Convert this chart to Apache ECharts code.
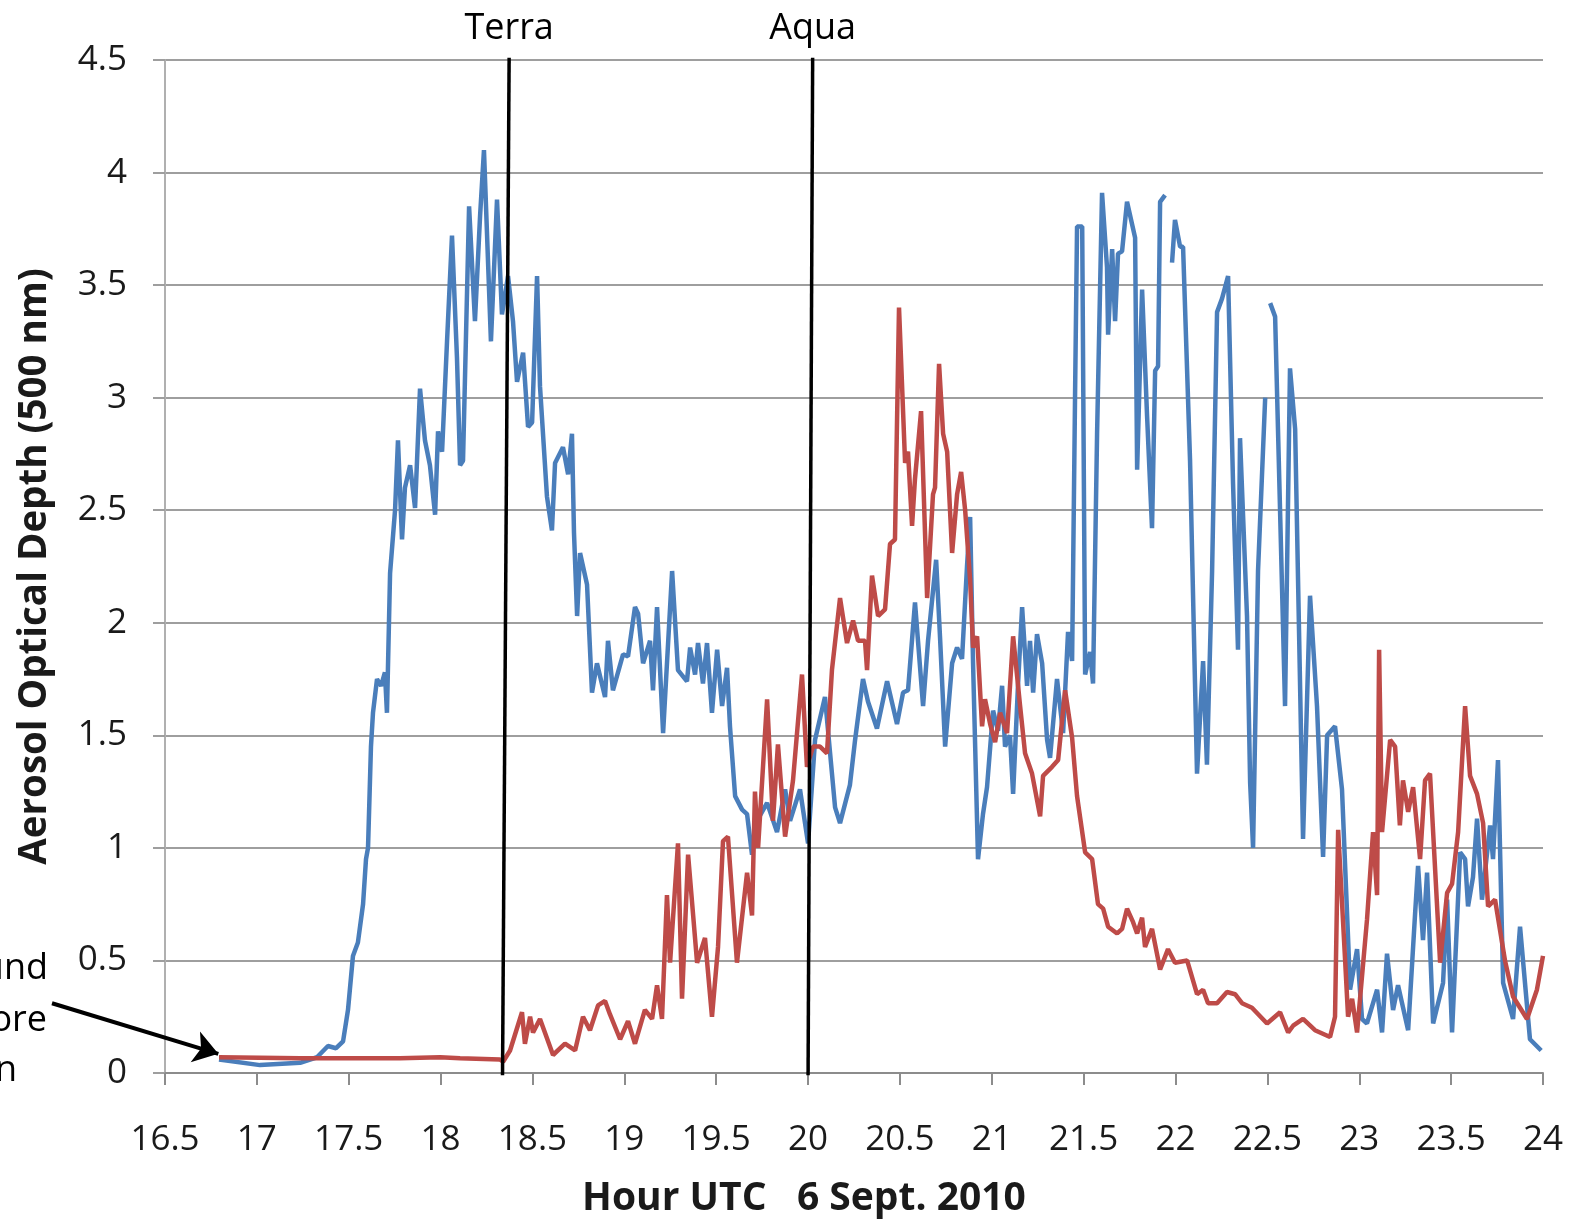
<!DOCTYPE html>
<html>
<head>
<meta charset="utf-8">
<script src="https://cdn.jsdelivr.net/npm/echarts@6/dist/echarts.min.js"></script>
<style>
  html, body { margin: 0; padding: 0; background: #fff; }
  #chart { width: 1571px; height: 1225px; }
</style>
</head>
<body>
<div id="chart"></div>
<script>
// Aerosol optical depth at 500 nm, hour UTC on 6 Sept. 2010
// Each point: [hour UTC, optical depth]; '-' marks a gap in the record.
const blueSeries = [
  [16.794,0.06],[17.017,0.035],[17.235,0.045],[17.327,0.07],[17.387,0.12],[17.431,0.11],
  [17.469,0.14],[17.496,0.28],[17.523,0.52],[17.55,0.58],[17.578,0.75],[17.594,0.95],
  [17.605,1.0],[17.621,1.45],[17.632,1.6],[17.654,1.75],[17.676,1.72],[17.697,1.78],
  [17.708,1.6],[17.725,2.22],[17.752,2.5],[17.768,2.81],[17.79,2.37],[17.806,2.6],
  [17.834,2.7],[17.861,2.51],[17.888,3.04],[17.915,2.81],[17.942,2.7],[17.97,2.48],
  [17.986,2.85],[18.008,2.76],[18.035,3.25],[18.062,3.72],[18.089,3.18],[18.106,2.7],
  [18.122,2.72],[18.155,3.85],[18.187,3.34],[18.215,3.81],[18.236,4.1],[18.274,3.25],
  [18.307,3.88],[18.334,3.37],[18.367,3.54],[18.394,3.34],[18.416,3.07],[18.449,3.2],
  [18.476,2.87],[18.498,2.89],[18.525,3.54],[18.541,3.05],[18.579,2.56],[18.606,2.41],
  [18.623,2.71],[18.666,2.78],[18.694,2.66],[18.715,2.84],[18.726,2.4],[18.743,2.03],
  [18.759,2.31],[18.797,2.17],[18.824,1.69],[18.851,1.82],[18.895,1.67],[18.911,1.92],
  [18.938,1.7],[18.993,1.86],[19.02,1.85],[19.058,2.07],[19.075,2.04],[19.102,1.82],
  [19.14,1.92],[19.156,1.7],[19.178,2.07],[19.211,1.51],[19.26,2.23],[19.292,1.79],
  [19.341,1.74],[19.358,1.89],[19.385,1.77],[19.401,1.91],[19.428,1.73],[19.45,1.91],
  [19.477,1.6],[19.505,1.88],[19.532,1.63],[19.559,1.8],[19.575,1.54],[19.603,1.23],
  [19.641,1.17],[19.668,1.15],[19.695,0.97],[19.722,1.12],[19.777,1.2],[19.831,1.07],
  [19.875,1.26],[19.902,1.12],[19.956,1.26],[20.0,1.02],[20.038,1.48],[20.092,1.67],
  [20.12,1.42],[20.147,1.18],[20.174,1.11],[20.228,1.28],[20.256,1.48],[20.299,1.75],
  [20.326,1.65],[20.375,1.53],[20.43,1.74],[20.484,1.55],[20.517,1.69],[20.544,1.7],
  [20.582,2.09],[20.626,1.63],[20.653,1.92],[20.697,2.28],[20.718,1.94],[20.746,1.45],
  [20.784,1.82],[20.811,1.89],[20.838,1.84],[20.865,2.25],[20.882,2.47],[20.898,1.82],
  [20.925,0.95],[20.952,1.15],[20.974,1.27],[21.007,1.61],[21.034,1.52],[21.056,1.72],
  [21.072,1.45],[21.099,1.5],[21.116,1.24],[21.143,1.73],[21.165,2.07],[21.192,1.72],
  [21.208,1.92],[21.225,1.69],[21.246,1.95],[21.274,1.82],[21.301,1.48],[21.317,1.4],
  [21.355,1.75],[21.388,1.51],[21.415,1.96],[21.437,1.83],[21.453,3.0],[21.464,3.76],
  [21.492,3.76],[21.508,1.77],[21.535,1.87],[21.551,1.73],[21.573,2.84],[21.6,3.91],
  [21.627,3.58],[21.633,3.28],[21.655,3.66],[21.671,3.34],[21.687,3.64],[21.709,3.65],
  [21.736,3.87],[21.78,3.71],[21.791,2.68],[21.818,3.48],[21.845,2.92],[21.872,2.42],
  [21.889,3.12],[21.905,3.14],[21.916,3.87],[21.943,3.9],[21.96,'-'],
  [21.981,3.6],[21.997,3.79],[22.025,3.67],[22.041,3.67],[22.079,2.72],[22.117,1.33],
  [22.15,1.83],[22.171,1.37],[22.199,2.23],[22.226,3.38],[22.253,3.44],[22.286,3.54],
  [22.313,2.62],[22.34,1.88],[22.351,2.82],[22.389,2.03],[22.406,1.29],[22.422,1.0],
  [22.449,2.23],[22.488,3.0],[22.5,'-'],
  [22.515,3.42],[22.542,3.36],[22.596,1.63],[22.623,3.13],[22.651,2.86],[22.694,1.04],
  [22.732,2.12],[22.77,1.63],[22.803,0.96],[22.825,1.5],[22.868,1.54],[22.906,1.26],
  [22.939,0.6],[22.95,0.37],[22.988,0.55],[23.015,0.24],[23.042,0.22],[23.097,0.37],
  [23.124,0.18],[23.151,0.53],[23.184,0.28],[23.211,0.39],[23.266,0.19],[23.304,0.71],
  [23.32,0.92],[23.347,0.59],[23.369,0.89],[23.402,0.22],[23.456,0.4],[23.478,0.77],
  [23.505,0.18],[23.549,0.98],[23.576,0.95],[23.592,0.74],[23.619,0.87],[23.641,1.13],
  [23.668,0.77],[23.712,1.1],[23.728,0.95],[23.755,1.39],[23.783,0.4],[23.837,0.24],
  [23.875,0.65],[23.929,0.15],[23.99,0.1]
];

const redSeries = [
  [16.794,0.07],[17.235,0.065],[17.779,0.065],[17.997,0.07],[18.106,0.065],[18.323,0.06],
  [18.34,0.05],[18.378,0.1],[18.443,0.27],[18.459,0.13],[18.487,0.25],[18.503,0.18],
  [18.541,0.24],[18.612,0.08],[18.677,0.13],[18.732,0.1],[18.775,0.25],[18.813,0.19],
  [18.857,0.3],[18.895,0.32],[18.922,0.26],[18.977,0.15],[19.02,0.23],[19.058,0.13],
  [19.112,0.28],[19.151,0.24],[19.178,0.39],[19.205,0.24],[19.232,0.79],[19.249,0.49],
  [19.292,1.02],[19.314,0.33],[19.347,0.97],[19.396,0.49],[19.439,0.6],[19.477,0.25],
  [19.51,0.56],[19.537,1.03],[19.564,1.05],[19.613,0.49],[19.668,0.89],[19.695,0.7],
  [19.711,1.25],[19.728,1.0],[19.777,1.66],[19.809,1.12],[19.836,1.46],[19.875,1.05],
  [19.918,1.3],[19.967,1.77],[19.994,1.36],[20.027,1.45],[20.065,1.45],[20.103,1.42],
  [20.13,1.79],[20.174,2.11],[20.212,1.91],[20.245,2.01],[20.272,1.92],[20.31,1.92],
  [20.321,1.79],[20.348,2.21],[20.381,2.03],[20.419,2.06],[20.446,2.35],[20.473,2.37],
  [20.495,3.4],[20.528,2.71],[20.544,2.76],[20.566,2.43],[20.582,2.64],[20.615,2.94],
  [20.648,2.11],[20.68,2.57],[20.691,2.6],[20.713,3.15],[20.735,2.84],[20.757,2.76],
  [20.784,2.31],[20.811,2.57],[20.833,2.67],[20.855,2.5],[20.882,2.19],[20.898,1.89],
  [20.92,1.94],[20.947,1.54],[20.963,1.66],[20.991,1.55],[21.018,1.47],[21.045,1.6],
  [21.083,1.51],[21.116,1.94],[21.154,1.63],[21.181,1.42],[21.219,1.33],[21.263,1.14],
  [21.279,1.32],[21.328,1.36],[21.361,1.39],[21.399,1.7],[21.437,1.49],[21.464,1.23],
  [21.508,0.98],[21.546,0.95],[21.578,0.75],[21.606,0.73],[21.633,0.65],[21.682,0.62],
  [21.709,0.64],[21.736,0.73],[21.769,0.67],[21.791,0.62],[21.818,0.69],[21.834,0.56],
  [21.872,0.64],[21.916,0.46],[21.959,0.55],[21.997,0.49],[22.063,0.5],[22.117,0.35],
  [22.15,0.37],[22.177,0.31],[22.226,0.31],[22.28,0.36],[22.324,0.35],[22.362,0.31],
  [22.416,0.29],[22.498,0.22],[22.569,0.27],[22.613,0.18],[22.64,0.21],[22.694,0.24],
  [22.759,0.19],[22.841,0.16],[22.868,0.25],[22.885,1.08],[22.923,0.5],[22.939,0.25],
  [22.961,0.33],[22.988,0.18],[23.042,0.68],[23.075,1.07],[23.097,0.79],[23.108,1.88],
  [23.124,1.07],[23.168,1.48],[23.195,1.45],[23.221,1.1],[23.238,1.3],[23.266,1.16],
  [23.293,1.27],[23.331,0.95],[23.358,1.3],[23.385,1.33],[23.44,0.49],[23.478,0.8],
  [23.505,0.84],[23.538,1.07],[23.576,1.63],[23.603,1.32],[23.641,1.24],[23.674,1.11],
  [23.701,0.74],[23.739,0.77],[23.793,0.5],[23.837,0.34],[23.913,0.24],[23.967,0.37],
  [24.0,0.52]
];

// Satellite overpass times (hour UTC): line from the top gridline down to the axis
const overpassNames = ['Terra', 'Aqua'];
const overpassTop = [[18.373, 4.51], [20.025, 4.51]];
const overpassBottom = [[18.337, -0.01], [20.0, -0.01]];

// Pointer toward the pre-smoke background values
const backgroundArrow = [[15.885, 0.31], [16.79, 0.085]];
const sideNote = ['und', 'ore', 'n'];

const xTicks = { min: 16.5, max: 24, interval: 0.5 };
const yTicks = { min: 0, max: 4.5, interval: 0.5 };

const FONT = '"Open Sans", "Liberation Sans", sans-serif';
const BLUE = '#4A7EBB';
const RED = '#BE4B48';

const chart = echarts.init(document.getElementById('chart'), null, { renderer: 'canvas' });

const overpassSeries = overpassNames.map((name, i) => ({
  type: 'line',
  name: name,
  data: [
    { value: overpassTop[i], label: { show: true, position: 'top', distance: 10, formatter: name,
      color: '#000', fontSize: 36, fontFamily: FONT } },
    { value: overpassBottom[i], label: { show: false } }
  ],
  showSymbol: true,
  symbol: 'circle',
  symbolSize: 1,
  itemStyle: { color: 'rgba(0,0,0,0)' },
  clip: false,
  silent: true,
  z: 5,
  lineStyle: { color: '#000', width: 3.5 }
}));

chart.setOption({
  animation: false,
  backgroundColor: '#fff',
  grid: { left: 165, right: 28, top: 60, bottom: 152, containLabel: false, outerBoundsMode: 'none' },
  xAxis: {
    type: 'value',
    min: xTicks.min, max: xTicks.max, interval: xTicks.interval,
    name: 'Hour UTC   6 Sept. 2010',
    nameLocation: 'middle',
    nameGap: 106,
    nameTextStyle: { fontFamily: FONT, fontWeight: 'bold', fontSize: 39, color: '#1a1a1a',
      padding: [0, 100, 0, 0] },
    axisLine: { show: true, onZero: false, lineStyle: { color: '#8c8c8c', width: 2 } },
    axisTick: { show: true, length: 12, lineStyle: { color: '#8c8c8c', width: 2 } },
    axisLabel: { fontFamily: FONT, fontSize: 35, color: '#1a1a1a', margin: 50 },
    splitLine: { show: false }
  },
  yAxis: {
    type: 'value',
    min: yTicks.min, max: yTicks.max, interval: yTicks.interval,
    name: 'Aerosol Optical Depth (500 nm)',
    nameLocation: 'middle',
    nameGap: 110,
    nameRotate: 90,
    nameTextStyle: { fontFamily: FONT, fontWeight: 'bold', fontSize: 38.5, color: '#1a1a1a' },
    axisLine: { show: true, lineStyle: { color: '#b0b0b0', width: 2 } },
    axisTick: { show: true, length: 12, lineStyle: { color: '#9e9e9e', width: 2 } },
    axisLabel: { fontFamily: FONT, fontSize: 35, color: '#1a1a1a', margin: 38 },
    splitLine: { show: true, lineStyle: { color: '#9e9e9e', width: 2 } }
  },
  series: [
    {
      type: 'line',
      name: 'blue',
      data: blueSeries,
      showSymbol: false,
      connectNulls: false,
      lineStyle: { color: BLUE, width: 4.5 },
      z: 3
    },
    {
      type: 'line',
      name: 'red',
      data: redSeries,
      showSymbol: false,
      lineStyle: { color: RED, width: 4.5 },
      z: 4
    },
    ...overpassSeries,
    {
      type: 'lines',
      coordinateSystem: 'cartesian2d',
      clip: false,
      silent: true,
      z: 6,
      symbol: ['none', 'arrow'],
      symbolSize: 24,
      lineStyle: { color: '#000', width: 4, opacity: 1 },
      data: [{ coords: backgroundArrow }]
    }
  ],
  graphic: [
    { type: 'text', right: 1571 - 48, top: 951, style: { text: sideNote[0], font: '36px ' + FONT, fill: '#000' } },
    { type: 'text', right: 1571 - 47, top: 1003, style: { text: sideNote[1], font: '36px ' + FONT, fill: '#000' } },
    { type: 'text', right: 1571 - 17, top: 1053, style: { text: sideNote[2], font: '36px ' + FONT, fill: '#000' } }
  ]
});
</script>
</body>
</html>
